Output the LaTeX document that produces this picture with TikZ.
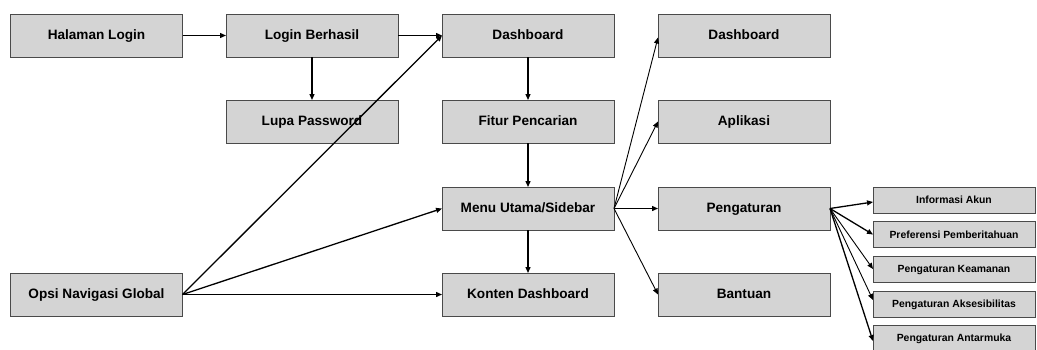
\documentclass[tikz,border=0pt]{standalone}
\usepackage{fontspec}
\setmainfont{Liberation Sans}
\usetikzlibrary{arrows.meta}
\definecolor{boxfill}{HTML}{D4D4D4}
\definecolor{boxline}{HTML}{4A4A4A}
\tikzset{
  boxbase/.style={draw=boxline, line width=1pt, fill=boxfill, inner sep=0pt, outer sep=0pt,
    text height=0.72em, text depth=0pt},
  mainbox/.style={boxbase, minimum width=172pt, minimum height=43pt,
    font=\fontsize{13.6pt}{16pt}\selectfont\bfseries},
  subbox/.style={boxbase, minimum width=162pt, minimum height=26pt,
    font=\fontsize{10.4pt}{12pt}\selectfont\bfseries},
  link/.style={draw=black, line width=1.3pt, -{Triangle[length=6pt,width=5pt]}},
  thin link/.style={draw=black, line width=0.9pt, -{Triangle[length=6pt,width=5pt]}}
}
\begin{document}
\begin{tikzpicture}[x=1pt,y=-1pt]
\useasboundingbox (0,0) rectangle (1037,349);
% first column
\node[mainbox] (login)   at (96.5,35.5)  {Halaman Login};
\node[mainbox] (opsi)    at (96.5,294.5) {Opsi Navigasi Global};
% second column
\node[mainbox] (berhasil) at (312,35.5)  {Login Berhasil};
\node[mainbox] (lupa)     at (312,121.5) {Lupa Password};
% third column
\node[mainbox] (dash)   at (528,35.5)  {Dashboard};
\node[mainbox] (cari)   at (528,121.5) {Fitur Pencarian};
\node[mainbox] (menu)   at (528,208.5) {Menu Utama/Sidebar};
\node[mainbox] (konten) at (528,294.5) {Konten Dashboard};
% fourth column
\node[mainbox] (mdash)  at (744,35.5)  {Dashboard};
\node[mainbox] (apl)    at (744,121.5) {Aplikasi};
\node[mainbox] (atur)   at (744,208.5) {Pengaturan};
\node[mainbox] (bantu)  at (744,294.5) {Bantuan};
% settings sub-items
\node[subbox] (akun)   at (954,200)   {Informasi Akun};
\node[subbox] (pref)   at (954,234.5) {Preferensi Pemberitahuan};
\node[subbox] (aman)   at (954,269)   {Pengaturan Keamanan};
\node[subbox] (akses)  at (954,304)   {Pengaturan Aksesibilitas};
\node[subbox] (muka)   at (954,338)   {Pengaturan Antarmuka};

% login flow
\draw[link] (login.east) -- (berhasil.west);
\draw[link] (berhasil.south) -- (lupa.north);
\draw[link] (berhasil.east) -- (dash.west);
% dashboard flow
\draw[link] (dash.south) -- (cari.north);
\draw[link] (cari.south) -- (menu.north);
\draw[link] (menu.south) -- (konten.north);
% global navigation
\draw[link] (opsi.east) -- (dash.west);
\draw[link] (opsi.east) -- (menu.west);
\draw[link] (opsi.east) -- (konten.west);
% menu entries
\draw[thin link] (menu.east) -- ([yshift=-2pt]mdash.west);
\draw[thin link] (menu.east) -- (apl.west);
\draw[link] (menu.east) -- (atur.west);
\draw[thin link] (menu.east) -- (bantu.west);
% settings entries
\draw[link] (atur.east) -- ([yshift=-2pt]akun.west);
\draw[link] (atur.east) -- (pref.west);
\draw[thin link] (atur.east) -- (aman.west);
\draw[thin link] (atur.east) -- ([yshift=4pt]akses.west);
\draw[link] (atur.east) -- ([yshift=-3pt]muka.west);
\end{tikzpicture}
\end{document}
